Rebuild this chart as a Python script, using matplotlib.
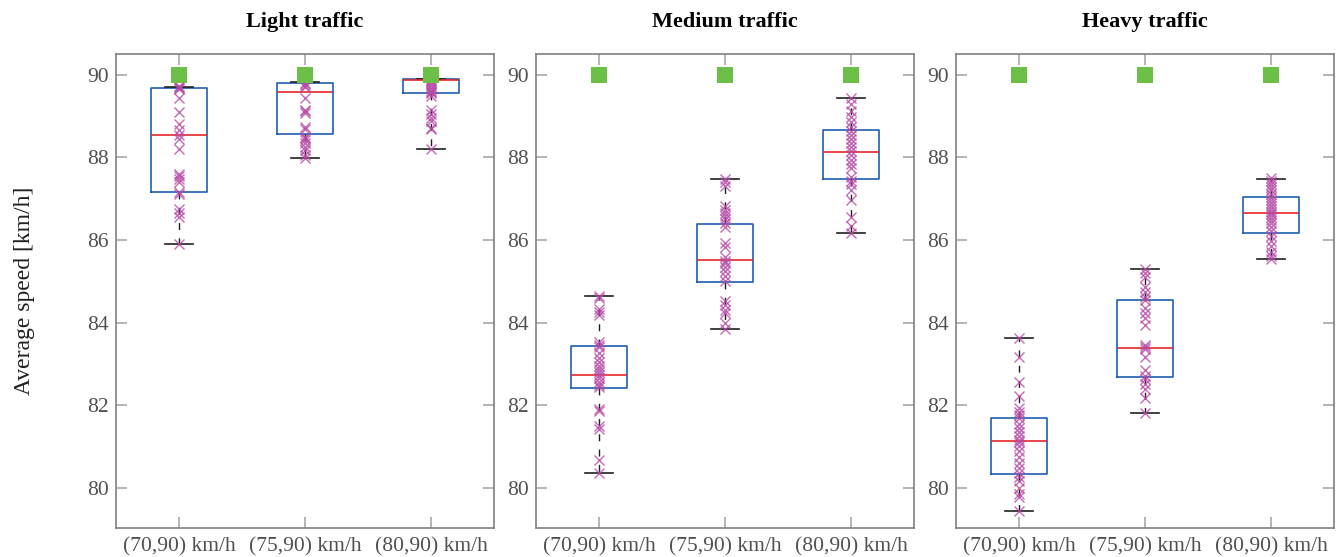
import matplotlib
matplotlib.use("Agg")
import matplotlib.pyplot as plt

# ---------------- data ----------------
panel_titles = ["Light traffic", "Medium traffic", "Heavy traffic"]
tick_labels = ["(70,90) km/h", "(75,90) km/h", "(80,90) km/h"]
ylabel = "Average speed [km/h]"
target_speed = 90.0

# box statistics: (whislo, q1, med, q3, whishi)
light_stats = [(85.90, 87.16, 88.54, 89.68, 89.71),
               (87.98, 88.56, 89.58, 89.81, 89.82),
               (88.21, 89.55, 89.88, 89.89, 89.90)]
medium_stats = [(80.36, 82.42, 82.74, 83.43, 84.64),
                (83.85, 84.98, 85.51, 86.38, 87.47),
                (86.17, 87.48, 88.14, 88.67, 89.45)]
heavy_stats = [(79.43, 80.32, 81.12, 81.68, 83.62),
               (81.81, 82.69, 83.38, 84.54, 85.29),
               (85.53, 86.18, 86.66, 87.05, 87.48)]

light_points = [
    [89.72, 89.70, 89.68, 89.65, 89.43, 89.09, 88.81, 88.66, 88.54, 88.45,
     88.21, 87.60, 87.55, 87.48, 87.40, 87.16, 87.12, 86.75, 86.65, 86.56, 85.90],
    [89.80, 89.78, 89.74, 89.70, 89.43, 89.15, 89.12, 89.08, 88.74, 88.70,
     88.50, 88.47, 88.42, 88.36, 88.25, 88.18, 88.05, 87.98],
    [89.88, 89.85, 89.80, 89.75, 89.70, 89.66, 89.62, 89.58, 89.55, 89.50,
     89.15, 89.05, 88.95, 88.88, 88.72, 88.68, 88.21],
]
medium_points = [
    [84.64, 84.60, 84.32, 84.25, 84.18, 83.52, 83.45, 83.40, 83.25, 83.15,
     83.05, 82.95, 82.88, 82.80, 82.74, 82.65, 82.55, 82.48, 82.43, 81.90,
     81.85, 81.50, 81.42, 80.68, 80.36],
    [87.47, 87.40, 87.30, 86.82, 86.72, 86.65, 86.58, 86.50, 86.40, 86.32,
     85.92, 85.82, 85.58, 85.50, 85.45, 85.35, 85.25, 85.12, 85.00, 84.52,
     84.42, 84.30, 84.22, 84.00, 83.85],
    [89.45, 89.30, 89.12, 88.98, 88.85, 88.75, 88.65, 88.55, 88.45, 88.35,
     88.25, 88.15, 88.05, 87.95, 87.85, 87.75, 87.52, 87.42, 87.35, 87.20,
     86.98, 86.55, 86.35, 86.17],
]
heavy_points = [
    [83.62, 83.17, 82.56, 82.21, 81.92, 81.82, 81.75, 81.68, 81.55, 81.45,
     81.35, 81.25, 81.15, 81.10, 81.00, 80.88, 80.75, 80.60, 80.48, 80.35,
     80.25, 80.15, 80.00, 79.85, 79.76, 79.43],
    [85.29, 85.20, 85.10, 84.85, 84.75, 84.62, 84.54, 84.35, 84.22, 84.10,
     83.95, 83.45, 83.40, 83.35, 83.16, 82.85, 82.70, 82.62, 82.50, 82.40,
     82.16, 81.81],
    [87.50, 87.42, 87.35, 87.28, 87.20, 87.12, 87.05, 86.98, 86.90, 86.82,
     86.75, 86.68, 86.62, 86.55, 86.48, 86.40, 86.32, 86.22, 86.10, 85.98,
     85.85, 85.72, 85.60, 85.53],
]

all_stats = [light_stats, medium_stats, heavy_stats]
all_points = [light_points, medium_points, heavy_points]

# ---------------- style ----------------
plt.rcParams['font.family'] = ['Liberation Serif', 'DejaVu Serif']
BLUE = '#1f5fb0'
RED = '#e8262a'
MAG = '#b548a6'
GREEN = '#6cbf47'
SPINE = '#808080'
TICKC = '#a8a8a8'
TXT = '#505050'

W, H = 1343, 557
fig = plt.figure(figsize=(W / 100, H / 100), dpi=100)
lefts = [116, 536, 956]
ax_w = 378
top_px, bot_px = 54.3, 528

for i in range(3):
    ax = fig.add_axes([lefts[i] / W, (H - bot_px) / H, ax_w / W, (bot_px - top_px) / H])
    positions = [1, 2, 3]
    stats = []
    for (lo, q1, med, q3, hi) in all_stats[i]:
        stats.append(dict(whislo=lo, q1=q1, med=med, q3=q3, whishi=hi, fliers=[]))
    ax.bxp(stats, positions=positions, widths=0.45, showfliers=False,
           boxprops=dict(color=BLUE, linewidth=1.2),
           medianprops=dict(color=RED, linewidth=1.2),
           whiskerprops=dict(color='#202020', linewidth=1.0, linestyle=(0, (5, 6))),
           capprops=dict(color='#202020', linewidth=1.2),
           capwidths=0.22)
    for p, pts in zip(positions, all_points[i]):
        ax.plot([p] * len(pts), pts, linestyle='none', marker='x', markersize=7.5,
                markeredgewidth=1.0, color=MAG, alpha=0.8, zorder=4)
        ax.plot([p], [target_speed], linestyle='none', marker='s', markersize=11.5,
                color=GREEN, markeredgewidth=0, zorder=5)
    ax.set_xlim(0.5, 3.5)
    ax.set_ylim(79.02, 90.5)
    ax.set_yticks([80, 82, 84, 86, 88, 90])
    ax.set_xticks(positions)
    ax.set_xticklabels(tick_labels)
    ax.tick_params(direction='in', length=8, width=1.2, color=TICKC,
                   top=True, right=True, labelsize=15.5, labelcolor=TXT, pad=5)
    ax.tick_params(axis='x', pad=7)
    for s in ax.spines.values():
        s.set_color(SPINE)
        s.set_linewidth(1.2)
    ax.set_title(panel_titles[i], fontsize=16, fontweight='bold', pad=20)
    if i == 0:
        ax.set_ylabel(ylabel, fontsize=17, color='#202020', labelpad=38)

fig.savefig('out.png', dpi=100)
